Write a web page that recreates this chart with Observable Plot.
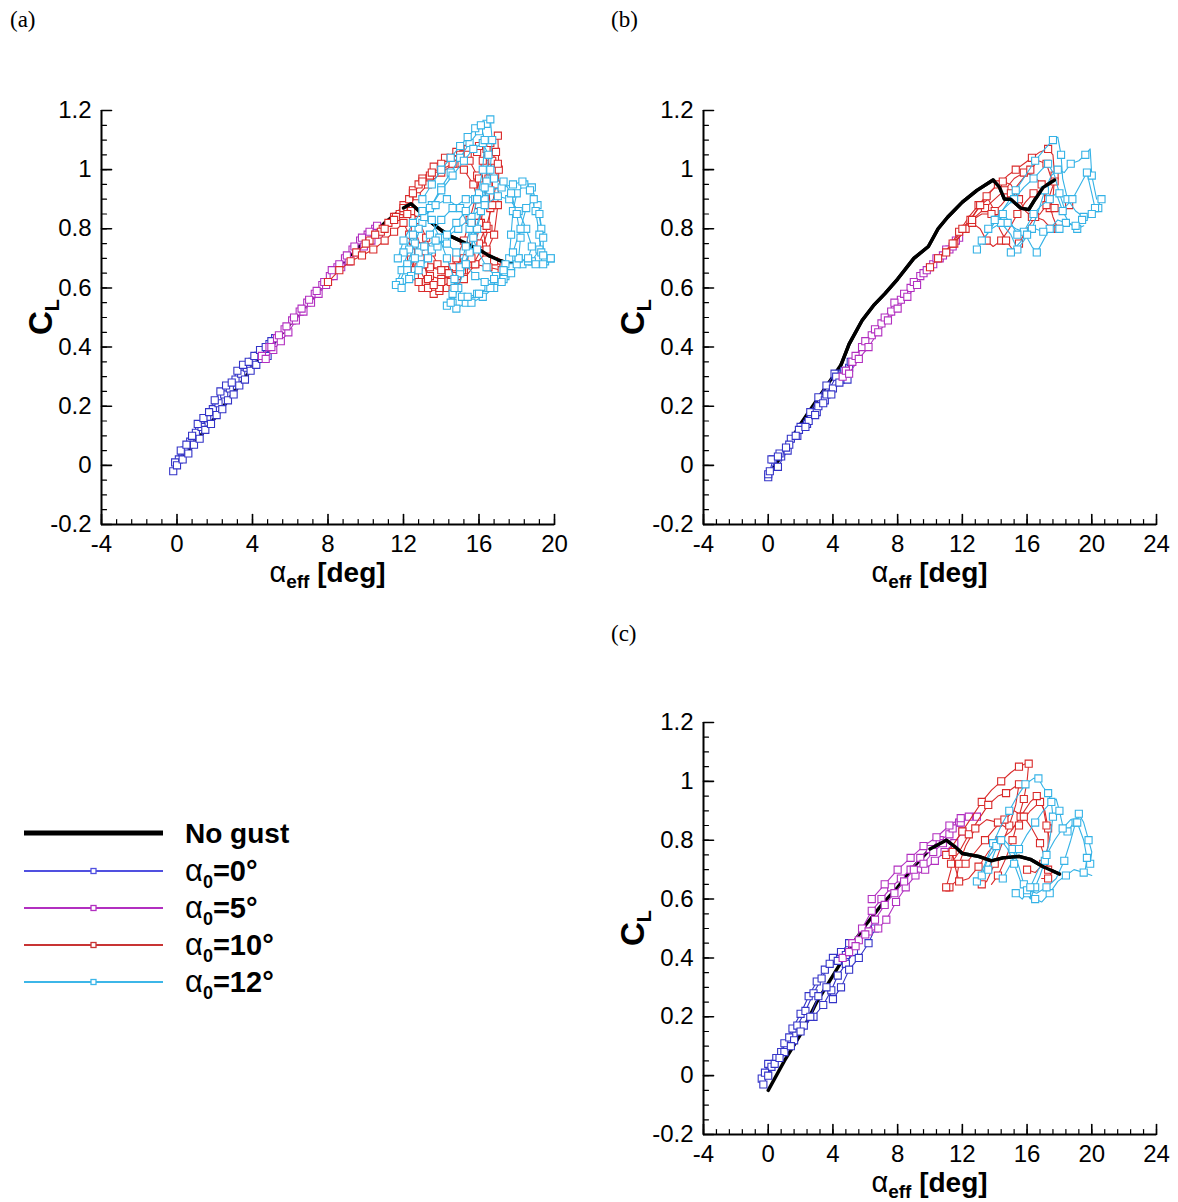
<!DOCTYPE html>
<html><head><meta charset="utf-8">
<script src="https://cdn.jsdelivr.net/npm/d3@7"></script>
<script src="https://cdn.jsdelivr.net/npm/@observablehq/plot@0.6"></script>
<style>
body{margin:0;background:#fff;}
#root{position:relative;width:1178px;height:1202px;overflow:hidden;background:#fff;}
.pl{position:absolute;}
#overlay{position:absolute;left:0;top:0;pointer-events:none;}
</style></head><body><div id="root"></div>
<script>
// ---------- tick labels ----------
const yTicks = [-0.2, 0, 0.2, 0.4, 0.6, 0.8, 1, 1.2];
const xTicksA = [-4, 0, 4, 8, 12, 16, 20];
const xTicksBC = [-4, 0, 4, 8, 12, 16, 20, 24];
const legendNames = ["No gust", "0", "5", "10", "12"]; // alpha_0 values
const panelNames = ["(a)", "(b)", "(c)"];

// ---------- panel (a) ----------
const aNoGust = [[0,0.0],[2,0.16],[4,0.33],[6,0.48],[8,0.63],[9,0.7],[10,0.76],[11,0.82],[12,0.87],[12.4,0.885],[13,0.85],[13.5,0.82],[14,0.795],[14.5,0.775],[15,0.76],[15.5,0.745],[16,0.73],[16.5,0.71],[17,0.695],[17.5,0.685],[18,0.68]];
const aBlue = [
 [[-0.2,-0.02],[0.1,0.02],[0.4,0.05],[0.7,0.08],[1.0,0.11],[1.3,0.13],[1.6,0.16],[1.9,0.19],[2.2,0.21],[2.5,0.24],[2.8,0.26],[3.1,0.29],[3.4,0.31],[3.7,0.33],[4.0,0.35],[4.3,0.37],[4.6,0.39],[4.9,0.41],[5.2,0.43]],
 [[-0.1,0.01],[0.2,0.05],[0.5,0.07],[0.8,0.1],[1.1,0.14],[1.4,0.16],[1.7,0.18],[2.0,0.22],[2.3,0.25],[2.6,0.27],[2.9,0.28],[3.2,0.32],[3.5,0.34],[3.8,0.35],[4.1,0.37],[4.4,0.39],[4.7,0.4],[5.0,0.42]],
 [[0.0,0.0],[0.3,0.02],[0.6,0.04],[0.9,0.07],[1.2,0.09],[1.5,0.12],[1.8,0.14],[2.1,0.17],[2.4,0.19],[2.7,0.22],[3.0,0.24],[3.3,0.27],[3.6,0.29],[3.9,0.32],[4.2,0.34],[4.5,0.36],[4.8,0.37]]
];
const aMagenta = [
 [[4.5,0.37],[4.9,0.4],[5.3,0.43],[5.7,0.46],[6.1,0.49],[6.5,0.52],[6.9,0.55],[7.3,0.58],[7.7,0.61],[8.1,0.64],[8.5,0.67],[8.9,0.7],[9.3,0.73],[9.7,0.76],[10.1,0.78],[10.5,0.8]],
 [[4.7,0.36],[5.1,0.39],[5.5,0.42],[5.9,0.45],[6.3,0.49],[6.7,0.52],[7.1,0.55],[7.5,0.58],[7.9,0.61],[8.3,0.64],[8.7,0.67],[9.1,0.69],[9.5,0.72],[9.9,0.74],[10.3,0.76],[10.7,0.78]],
 [[5.0,0.4],[5.4,0.44],[5.8,0.47],[6.2,0.5],[6.6,0.53],[7.0,0.56],[7.4,0.59],[7.8,0.62],[8.2,0.66],[8.6,0.68],[9.0,0.71],[9.4,0.74],[9.8,0.77],[10.2,0.79],[10.6,0.81]]
];
const aRed = [
 [[9.5,0.72],[10.2,0.76],[10.9,0.8],[11.5,0.84],[12.0,0.88],[12.5,0.93],[13.0,0.97],[13.6,1.01],[14.2,1.04],[14.8,1.06],[15.4,1.07],[15.9,1.06],[16.3,1.02],[16.5,0.95],[16.6,0.87],[16.5,0.8],[16.2,0.74],[15.7,0.68],[15.0,0.64],[14.3,0.6],[13.6,0.58],[13.0,0.6],[12.6,0.64],[12.4,0.7],[12.5,0.76]],
 [[10.0,0.75],[10.8,0.79],[11.5,0.83],[12.1,0.87],[12.7,0.91],[13.3,0.95],[14.0,0.99],[14.7,1.02],[15.4,1.05],[16.0,1.08],[16.6,1.1],[17.0,1.115],[17.05,1.0],[17.0,0.88],[16.8,0.78],[16.4,0.72],[15.8,0.68],[15.2,0.63],[14.6,0.6],[13.9,0.59],[13.2,0.62],[12.8,0.67],[12.9,0.74]],
 [[10.5,0.78],[11.2,0.82],[11.8,0.85],[12.3,0.9],[12.8,0.95],[13.4,0.98],[14.0,1.0],[14.6,1.02],[15.2,1.0],[15.7,0.95],[16.0,0.88],[16.2,0.8],[16.4,0.73],[16.8,0.69],[17.3,0.67],[17.6,0.66],[17.2,0.66],[16.5,0.67],[15.8,0.68],[15.2,0.66],[14.6,0.64],[14.0,0.63],[13.4,0.64],[13.0,0.68]],
 [[11.0,0.8],[11.6,0.84],[12.0,0.86],[12.4,0.86],[12.8,0.83],[13.2,0.77],[13.5,0.72],[13.8,0.68],[14.2,0.66],[14.8,0.67],[15.4,0.7],[15.8,0.75],[16.1,0.82],[16.3,0.9],[16.5,0.97],[16.7,1.03],[16.9,1.06]],
 [[8.0,0.62],[8.6,0.66],[9.2,0.69],[9.8,0.71],[10.4,0.73],[11.0,0.76],[11.5,0.79],[12.0,0.82],[12.3,0.78],[12.4,0.72],[12.6,0.66],[12.8,0.62],[13.3,0.6],[13.9,0.6],[14.5,0.62],[15.1,0.66],[15.6,0.7],[16.0,0.75],[16.4,0.81],[16.7,0.88],[16.9,0.95],[17.0,1.02]],
 [[11.5,0.83],[12.0,0.87],[12.5,0.92],[13.0,0.96],[13.5,0.99],[14.0,1.02],[14.5,1.04],[15.0,1.05],[15.5,1.03],[15.9,0.98],[16.1,0.9],[16.0,0.82],[15.7,0.75],[15.2,0.7],[14.6,0.67],[14.0,0.66],[13.4,0.67],[12.9,0.7]],
 [[12.2,0.85],[12.6,0.8],[12.9,0.74],[13.1,0.68],[13.3,0.63],[13.6,0.61],[14.0,0.62],[14.4,0.65],[14.8,0.7],[15.2,0.76],[15.5,0.83],[15.8,0.9],[16.0,0.97],[16.2,1.03],[16.4,1.07],[16.6,1.09]]
];
const aCyan = [
 [[11.8,0.62],[12.2,0.68],[12.6,0.75],[13.0,0.82],[13.5,0.88],[14.0,0.94],[14.5,0.99],[15.0,1.04],[15.5,1.09],[16.0,1.13],[16.4,1.155],[16.6,1.17],[16.7,1.1],[16.6,1.0],[16.3,0.9],[15.9,0.8],[15.5,0.72],[15.0,0.65],[14.6,0.58],[14.3,0.54]],
 [[11.6,0.61],[11.9,0.66],[12.3,0.73],[12.8,0.8],[13.4,0.87],[14.0,0.93],[14.6,0.98],[15.2,1.03],[15.7,1.07],[16.2,1.09],[16.5,1.05],[16.4,0.96],[16.1,0.86],[15.7,0.77],[15.3,0.68],[14.9,0.6],[14.6,0.55],[14.8,0.53],[15.3,0.55],[15.9,0.58],[16.5,0.6],[17.0,0.62],[17.4,0.64]],
 [[12.0,0.72],[12.5,0.78],[13.1,0.84],[13.7,0.88],[14.3,0.9],[15.0,0.87],[15.5,0.8],[15.9,0.73],[16.4,0.67],[16.9,0.64],[17.4,0.65],[17.6,0.7],[17.7,0.78],[17.8,0.86],[18.0,0.92],[18.4,0.95],[18.8,0.94],[19.1,0.88],[19.3,0.8],[19.2,0.73],[18.8,0.69],[18.3,0.68]],
 [[12.2,0.66],[12.8,0.72],[13.4,0.78],[14.0,0.83],[14.6,0.87],[15.3,0.9],[16.0,0.92],[16.6,0.93],[17.2,0.94],[17.8,0.95],[18.3,0.96],[18.7,0.93],[19.0,0.86],[19.2,0.78],[19.3,0.72],[19.5,0.69],[19.8,0.7]],
 [[11.7,0.7],[12.0,0.76],[12.5,0.82],[13.0,0.86],[13.5,0.83],[13.9,0.77],[14.3,0.7],[14.7,0.63],[15.1,0.57],[15.6,0.55],[16.2,0.57],[16.8,0.6],[17.3,0.63],[17.7,0.67],[18.1,0.7],[18.6,0.69],[19.0,0.68],[19.4,0.68],[19.8,0.7]],
 [[12.4,0.64],[12.9,0.68],[13.5,0.73],[14.2,0.77],[14.9,0.8],[15.6,0.84],[16.3,0.88],[17.0,0.91],[17.6,0.9],[18.1,0.86],[18.5,0.8],[18.8,0.74],[18.6,0.7],[18.0,0.68],[17.4,0.68]],
 [[11.9,0.6],[12.3,0.63],[12.8,0.66],[13.3,0.7],[13.8,0.74],[14.3,0.78],[14.8,0.82],[15.3,0.86],[15.8,0.9],[16.3,0.94],[16.8,0.97],[17.3,0.96],[17.7,0.92],[18.0,0.85],[18.2,0.77],[18.1,0.7],[17.7,0.65],[17.2,0.62],[16.6,0.6],[16.0,0.58],[15.4,0.57]],
 [[13.0,0.9],[13.5,0.95],[14.0,1.0],[14.5,1.04],[15.0,1.08],[15.4,1.11],[15.8,1.14],[16.1,1.15],[16.3,1.1],[16.2,1.0],[15.9,0.9],[15.6,0.82],[15.3,0.74],[15.0,0.67],[14.7,0.6],[14.5,0.55]],
 [[12.6,0.7],[13.1,0.74],[13.7,0.76],[14.3,0.75],[14.8,0.72],[15.3,0.68],[15.8,0.64],[16.3,0.62],[16.8,0.63],[17.3,0.66],[17.8,0.72],[18.2,0.8],[18.5,0.87],[18.9,0.9],[19.2,0.85],[19.4,0.77],[19.4,0.71]]
];

// ---------- panel (b) ----------
const bNoGust = [[0,-0.04],[1,0.05],[2,0.14],[3,0.22],[4,0.3],[4.5,0.34],[5,0.41],[5.8,0.49],[6.5,0.54],[7.2,0.58],[8,0.63],[9,0.7],[9.9,0.74],[10.5,0.8],[11.1,0.84],[12,0.89],[12.9,0.93],[13.9,0.965],[14.3,0.94],[14.6,0.9],[15.0,0.9],[15.6,0.87],[16.1,0.865],[16.5,0.9],[17.0,0.94],[17.7,0.965]];
const bBlue = [
 [[0,-0.04],[0.3,0.02],[0.8,0.03],[1.4,0.09],[2,0.13],[2.6,0.18],[3.1,0.23],[3.6,0.27],[4.1,0.31],[4.6,0.31],[5.0,0.33]],
 [[0,-0.03],[0.6,-0.005],[1.2,0.05],[1.8,0.1],[2.4,0.14],[3.0,0.18],[3.5,0.22],[4.0,0.26],[4.5,0.29],[4.9,0.29]],
 [[0.2,0.02],[0.7,0.04],[1.3,0.07],[1.9,0.12],[2.5,0.15],[3.1,0.2],[3.6,0.24],[4.2,0.3],[4.7,0.32],[5.1,0.35]],
 [[0.1,-0.02],[0.6,0.03],[1.1,0.06],[1.7,0.1],[2.3,0.13],[2.9,0.17],[3.4,0.21],[3.9,0.24],[4.4,0.28],[4.8,0.31]]
];
const bMagenta = [
 [[4.6,0.3],[5.2,0.35],[5.8,0.4],[6.4,0.44],[7.0,0.48],[7.6,0.52],[8.2,0.56],[8.8,0.6],[9.4,0.64],[10.0,0.67],[10.6,0.7],[11.2,0.73],[11.8,0.77]],
 [[4.8,0.32],[5.4,0.37],[6.0,0.42],[6.6,0.46],[7.2,0.5],[7.8,0.55],[8.4,0.58],[9.0,0.62],[9.6,0.65],[10.2,0.68],[10.8,0.71],[11.4,0.74]],
 [[5.0,0.31],[5.6,0.36],[6.2,0.4],[6.8,0.45],[7.4,0.49],[8.0,0.53],[8.6,0.57],[9.2,0.61],[9.8,0.66],[10.4,0.7],[11.0,0.73],[11.6,0.76]]
];
const bRed = [
 [[10.5,0.7],[11.2,0.74],[11.8,0.79],[12.4,0.84],[13.0,0.88],[13.6,0.92],[14.2,0.95],[14.8,0.98],[15.3,1.0],[15.8,1.02],[16.3,1.04],[16.8,1.06],[17.3,1.07],[17.6,1.05],[17.7,0.98],[17.6,0.9],[17.4,0.87]],
 [[11.0,0.72],[11.6,0.76],[12.2,0.8],[12.8,0.84],[13.4,0.87],[14.0,0.9],[14.6,0.93],[15.2,0.97],[15.8,0.99],[16.4,0.98],[16.9,0.95],[17.3,0.9],[17.7,0.87],[18.2,0.85],[18.6,0.88]],
 [[11.5,0.75],[12.1,0.79],[12.6,0.82],[13.1,0.8],[13.5,0.76],[13.9,0.74],[14.4,0.76],[14.9,0.8],[15.4,0.85],[15.9,0.89],[16.4,0.92],[16.9,0.93],[17.3,0.9],[17.6,0.84],[17.9,0.8]],
 [[12.0,0.8],[12.6,0.84],[13.1,0.88],[13.6,0.9],[14.0,0.86],[14.3,0.8],[14.7,0.76],[15.1,0.73],[15.5,0.75],[16.0,0.8],[16.5,0.84],[17.0,0.83],[17.5,0.8],[18.0,0.79]],
 [[12.5,0.83],[13.0,0.87],[13.5,0.91],[14.0,0.94],[14.5,0.96],[15.0,0.95],[15.5,0.9],[15.9,0.86],[16.3,0.84],[16.8,0.85],[17.2,0.88],[17.5,0.93],[17.7,0.96]],
 [[10.0,0.67],[10.7,0.71],[11.4,0.75],[12.0,0.8],[12.6,0.83],[13.2,0.85],[13.8,0.85],[14.4,0.88],[15.0,0.92],[15.6,0.96],[16.2,1.0],[16.7,1.03],[17.2,1.02],[17.5,0.97]]
];
const bCyan = [
 [[12.9,0.73],[13.5,0.78],[14.1,0.83],[14.7,0.88],[15.3,0.93],[15.9,0.98],[16.5,1.03],[17.1,1.07],[17.6,1.1],[17.9,1.11],[18.1,1.05],[18.2,0.97],[18.5,0.9],[19.0,0.86],[19.5,0.84],[20.0,0.84],[20.6,0.9]],
 [[13.2,0.76],[13.8,0.8],[14.4,0.82],[15.0,0.78],[15.4,0.73],[15.8,0.76],[16.3,0.8],[16.7,0.86],[17.1,0.93],[17.5,0.98],[17.9,1.0],[18.3,0.99],[18.7,1.02],[19.2,1.03],[19.6,1.05],[19.9,1.07],[20.0,0.98],[20.3,0.9]],
 [[13.6,0.8],[14.2,0.84],[14.8,0.82],[15.3,0.8],[15.8,0.79],[16.3,0.74],[16.6,0.72],[17.0,0.76],[17.4,0.8],[17.9,0.83],[18.4,0.82],[18.9,0.81],[19.4,0.83],[19.9,0.84],[20.4,0.87]],
 [[14.0,0.83],[14.6,0.87],[15.2,0.9],[15.8,0.94],[16.4,0.97],[16.9,1.0],[17.3,1.02],[17.7,0.98],[18.0,0.92],[18.3,0.87],[18.8,0.9],[19.3,0.95],[19.7,0.99],[20.0,0.92],[20.2,0.87]],
 [[14.5,0.85],[15.0,0.82],[15.4,0.78],[15.9,0.8],[16.4,0.85],[16.9,0.88],[17.4,0.9],[17.8,0.92],[18.2,0.86],[18.6,0.82],[19.1,0.8],[19.5,0.81]],
 [[15.0,0.72],[15.5,0.75],[16.0,0.78],[16.5,0.8],[17.0,0.79],[17.5,0.81],[18.0,0.8],[18.5,0.82],[19.0,0.81],[19.5,0.83],[20.0,0.85]]
];

// ---------- panel (c) ----------
const cNoGust = [[0,-0.05],[1,0.05],[2,0.14],[3,0.25],[4,0.34],[5,0.43],[6,0.51],[7,0.58],[8,0.64],[9,0.71],[10,0.77],[11,0.8],[11.5,0.78],[12,0.755],[13,0.745],[13.8,0.73],[14.5,0.74],[15.5,0.745],[16.2,0.735],[17,0.71],[18,0.685]];
const cBlue = [
 [[-0.4,-0.01],[0.0,0.04],[0.5,0.06],[1.0,0.11],[1.5,0.16],[2.0,0.21],[2.5,0.27],[3.0,0.32],[3.5,0.36],[4.0,0.4],[4.5,0.42],[5.0,0.45]],
 [[-0.3,-0.03],[0.2,0.03],[0.8,0.08],[1.3,0.13],[1.8,0.17],[2.3,0.22],[2.8,0.28],[3.3,0.33],[3.8,0.38],[4.3,0.39],[4.8,0.41]],
 [[-0.2,0.01],[0.4,0.04],[1.0,0.08],[1.6,0.12],[2.2,0.17],[2.8,0.2],[3.4,0.24],[3.9,0.29],[4.3,0.34],[4.8,0.38],[5.3,0.42]],
 [[0,0.0],[0.7,0.06],[1.4,0.1],[2.0,0.15],[2.6,0.2],[3.1,0.27],[3.6,0.3],[4.0,0.26],[4.5,0.3],[5.0,0.36],[5.6,0.4],[6.2,0.45],[6.6,0.5]]
];
const cMagenta = [
 [[4.6,0.4],[5.2,0.45],[5.8,0.5],[6.4,0.56],[7.0,0.6],[7.6,0.64],[8.2,0.67],[8.8,0.7],[9.4,0.74],[10.0,0.77],[10.6,0.8],[11.2,0.82],[11.8,0.86],[12.4,0.88],[12.9,0.88]],
 [[5.0,0.42],[5.6,0.46],[6.2,0.49],[6.8,0.5],[7.3,0.53],[7.9,0.59],[8.5,0.64],[9.1,0.68],[9.7,0.7],[10.3,0.73],[10.9,0.76],[11.5,0.79],[12.0,0.83]],
 [[5.4,0.44],[6.0,0.48],[6.6,0.53],[7.2,0.58],[7.8,0.62],[8.4,0.66],[9.0,0.7],[9.6,0.72],[10.2,0.76],[10.8,0.79],[11.4,0.84],[11.9,0.86]],
 [[6.4,0.6],[7.2,0.65],[8.0,0.7],[8.8,0.74],[9.6,0.78],[10.4,0.81],[11.2,0.85],[11.9,0.875]]
];
const cRed = [
 [[11.0,0.75],[11.5,0.79],[12.0,0.83],[12.6,0.88],[13.2,0.93],[13.8,0.97],[14.4,1.0],[15.0,1.03],[15.5,1.05],[15.9,1.06],[16.1,1.06],[16.0,1.0],[15.8,0.94],[15.5,0.88],[15.1,0.8],[14.7,0.74],[14.2,0.68],[13.8,0.65]],
 [[11.3,0.72],[11.8,0.76],[12.4,0.82],[13.0,0.87],[13.6,0.92],[14.2,0.95],[14.7,0.96],[15.2,0.98],[15.5,0.99],[15.3,0.92],[14.9,0.85],[14.4,0.78],[14.0,0.72],[13.5,0.66],[13.2,0.65]],
 [[11.2,0.64],[11.6,0.66],[11.8,0.72],[12.2,0.78],[12.8,0.84],[13.5,0.87],[14.2,0.86],[14.8,0.84],[15.5,0.85],[16.2,0.9],[16.8,0.93],[17.1,0.9],[17.3,0.84],[17.3,0.78],[17.0,0.72],[16.5,0.69],[16.0,0.7]],
 [[11.0,0.64],[11.3,0.7],[11.4,0.76],[11.5,0.72],[11.8,0.66],[12.4,0.67],[13.0,0.71],[13.6,0.76],[14.3,0.8],[15.0,0.83],[15.6,0.88],[16.2,0.93],[16.6,0.95],[17.0,0.91],[17.2,0.85],[17.4,0.8]],
 [[12.2,0.72],[12.8,0.76],[13.4,0.8],[14.0,0.84],[14.6,0.87],[15.2,0.9],[15.8,0.88],[16.3,0.84],[16.8,0.79],[17.1,0.74],[17.3,0.7],[17.5,0.68],[17.3,0.67],[16.9,0.67]]
];
const cCyan = [
 [[12.9,0.66],[13.4,0.72],[13.9,0.79],[14.4,0.85],[14.9,0.9],[15.4,0.95],[15.9,0.99],[16.4,1.01],[16.7,1.01],[17.0,0.98],[17.3,0.96],[17.5,0.93],[17.6,0.88],[17.4,0.8],[17.1,0.73],[16.8,0.68],[16.5,0.64],[16.2,0.6],[16.0,0.62]],
 [[13.2,0.68],[13.6,0.74],[14.1,0.78],[14.6,0.8],[15.1,0.77],[15.5,0.71],[15.8,0.65],[16.1,0.61],[16.5,0.6],[16.9,0.59],[17.4,0.62],[17.9,0.66],[18.4,0.68],[18.9,0.7],[19.5,0.69],[20.0,0.68]],
 [[14.5,0.67],[15.0,0.72],[15.5,0.77],[16.0,0.82],[16.5,0.86],[17.0,0.9],[17.5,0.93],[17.8,0.94],[18.0,0.9],[18.2,0.85],[18.5,0.83],[18.9,0.86],[19.2,0.89],[19.5,0.86],[19.8,0.8],[20.0,0.76],[19.9,0.72]],
 [[13.6,0.7],[14.0,0.76],[14.4,0.8],[14.8,0.77],[15.2,0.72],[15.6,0.66],[16.0,0.63],[16.6,0.62],[17.2,0.64],[17.8,0.67],[18.3,0.73],[18.7,0.8],[19.0,0.86],[19.3,0.89]],
 [[15.3,0.62],[15.7,0.6],[16.2,0.64],[16.7,0.7],[17.2,0.75],[17.7,0.8],[18.2,0.84],[18.7,0.87],[19.1,0.86],[19.5,0.8],[19.7,0.74],[19.6,0.7]]
];

// ---------- styling ----------
const COL = {black:"#000000", blue:"#3434c8", magenta:"#b22fc0", red:"#d92a2a", cyan:"#34b2e6"};
const legendColors = [COL.black, "#5050e0", COL.magenta, "#c83434", "#3cb6e8"];
const FONT = "'Liberation Sans', Arial, sans-serif";

function rows(curves, tag) {
  const out = [];
  curves.forEach((c, ci) => c.forEach(([x, y], i) => out.push({x, y, z: tag + ci, i})));
  return out;
}
const tickShape = {draw(ctx, l) { ctx.moveTo(0, 0); ctx.lineTo(0, -l); }};

function panel(cfg) {
  const {xTicks, width, height, ml, mr, mt, mb, layers, yLabelX} = cfg;
  const xMax = xTicks[xTicks.length - 1];
  const xMinor = d3.range(0, Math.round((xMax + 4) / 0.8) + 1).map(i => -4 + i * 0.8);
  const yMinor = d3.range(0, 29).map(i => -0.2 + i * 0.05);
  const marks = [];
  for (const L of layers) {
    if (L.kind === "nogust") {
      const from = L.from ?? -Infinity;
      marks.push(Plot.line(L.data, {x: d => d[0], y: d => d[1], filter: d => d[0] >= from, stroke: COL.black, strokeWidth: 3.4, strokeLinejoin: "round"}));
    } else {
      const r = rows(L.data, L.kind);
      marks.push(Plot.line(r, {x: "x", y: "y", z: "z", stroke: L.color, strokeWidth: 1.1}));
      marks.push(Plot.dot(r.filter(d => d.i % L.every === 0), {x: "x", y: "y", symbol: "square", r: 4, stroke: L.color, fill: "white", strokeWidth: 1.1}));
    }
  }
  marks.push(
    Plot.ruleY([-0.2], {stroke: "#000", strokeWidth: 2}),
    Plot.ruleX([-4], {stroke: "#000", strokeWidth: 2}),
    Plot.vectorX(xMinor, {x: d => d, frameAnchor: "bottom", length: 5, rotate: 0, anchor: "start", shape: tickShape, stroke: "#000", strokeWidth: 1.2}),
    Plot.vectorX(xTicks, {x: d => d, frameAnchor: "bottom", length: 10, rotate: 0, anchor: "start", shape: tickShape, stroke: "#000", strokeWidth: 1.6}),
    Plot.vectorY(yMinor, {y: d => d, frameAnchor: "left", length: 5, rotate: 90, anchor: "start", shape: tickShape, stroke: "#000", strokeWidth: 1.2}),
    Plot.vectorY(yTicks, {y: d => d, frameAnchor: "left", length: 10, rotate: 90, anchor: "start", shape: tickShape, stroke: "#000", strokeWidth: 1.6}),
    Plot.axisX({ticks: xTicks, tickSize: 0, tickPadding: 10, label: null, tickFormat: d => String(d), fontSize: 24}),
    Plot.axisY({ticks: yTicks, tickSize: 0, tickPadding: 10, label: null, tickFormat: d => String(+d.toFixed(2)), fontSize: 24})
  );
  const svg = Plot.plot({
    width, height, marginLeft: ml, marginRight: mr, marginTop: mt, marginBottom: mb,
    x: {domain: [-4, xMax]}, y: {domain: [-0.2, 1.2]},
    style: {fontFamily: FONT, fontSize: "24px", color: "#000", background: "transparent", overflow: "visible"},
    marks
  });
  const s = d3.select(svg);
  // y label C_L
  const cy = mt + (height - mt - mb) / 2;
  const ty = s.append("text").attr("transform", `translate(${yLabelX},${cy}) rotate(-90)`)
    .attr("text-anchor", "middle").attr("font-family", FONT).attr("font-weight", "bold").attr("fill", "#000");
  ty.append("tspan").attr("font-size", 33).text("C");
  ty.append("tspan").attr("font-size", 20).attr("dy", 7).text("L");
  // x label alpha_eff [deg]
  const cx = ml + (width - ml - mr) / 2;
  const tx = s.append("text").attr("x", cx).attr("y", height - mb + 58)
    .attr("text-anchor", "middle").attr("font-family", FONT).attr("fill", "#000");
  tx.append("tspan").attr("font-size", 29).text("α");
  tx.append("tspan").attr("font-size", 19).attr("font-weight", "bold").attr("dy", 6).text("eff");
  tx.append("tspan").attr("font-size", 28).attr("font-weight", "bold").attr("dy", -6).text(" [deg]");
  return svg;
}

const root = document.getElementById("root");
function place(svg, left, top) {
  const d = document.createElement("div"); d.className = "pl";
  d.style.left = left + "px"; d.style.top = top + "px";
  d.appendChild(svg); root.appendChild(d);
}

place(panel({xTicks: xTicksA, width: 580, height: 600, ml: 101, mr: 26, mt: 110, mb: 76, yLabelX: 52,
  layers: [
    {kind: "nogust", data: aNoGust},
    {kind: "b", data: aBlue, color: COL.blue, every: 1},
    {kind: "m", data: aMagenta, color: COL.magenta, every: 1},
    {kind: "r", data: aRed, color: COL.red, every: 1},
    {kind: "nogust", data: aNoGust, from: 12},
    {kind: "c", data: aCyan, color: COL.cyan, every: 1}
  ]}), 0, 0);

place(panel({xTicks: xTicksBC, width: 578, height: 600, ml: 103, mr: 22, mt: 110, mb: 76, yLabelX: 44,
  layers: [
    {kind: "nogust", data: bNoGust},
    {kind: "b", data: bBlue, color: COL.blue, every: 1},
    {kind: "m", data: bMagenta, color: COL.magenta, every: 1},
    {kind: "r", data: bRed, color: COL.red, every: 2},
    {kind: "c", data: bCyan, color: COL.cyan, every: 2},
    {kind: "nogust", data: bNoGust, from: 4.5}
  ]}), 600, 0);

place(panel({xTicks: xTicksBC, width: 578, height: 590, ml: 103, mr: 22, mt: 110, mb: 68, yLabelX: 44,
  layers: [
    {kind: "nogust", data: cNoGust},
    {kind: "b", data: cBlue, color: COL.blue, every: 1},
    {kind: "m", data: cMagenta, color: COL.magenta, every: 1},
    {kind: "r", data: cRed, color: COL.red, every: 2},
    {kind: "c", data: cCyan, color: COL.cyan, every: 2},
    {kind: "nogust", data: cNoGust, from: 10}
  ]}), 600, 612);

// ---------- overlay: panel labels and legend ----------
const ov = d3.select(root).append("svg").attr("id", "overlay").attr("width", 1178).attr("height", 1202);
[[10, 27], [611, 27], [611, 641]].forEach(([x, y], i) => {
  ov.append("text").attr("x", x).attr("y", y).attr("font-family", "'Liberation Serif','Times New Roman',serif")
    .attr("font-size", 23).attr("fill", "#000").text(panelNames[i]);
});
const legY = [833, 871, 908, 945, 982];
legendNames.forEach((name, i) => {
  const y = legY[i];
  ov.append("line").attr("x1", 24).attr("x2", 163).attr("y1", y).attr("y2", y)
    .attr("stroke", legendColors[i]).attr("stroke-width", i === 0 ? 5 : 2);
  if (i > 0) {
    ov.append("rect").attr("x", 91).attr("y", y - 2.5).attr("width", 5).attr("height", 5)
      .attr("fill", "white").attr("stroke", legendColors[i]).attr("stroke-width", 1.3);
  }
  const t = ov.append("text").attr("x", 185).attr("y", y + 10).attr("font-family", FONT).attr("fill", "#000");
  if (i === 0) {
    t.attr("font-size", 28).attr("font-weight", "bold").text(name);
  } else {
    t.append("tspan").attr("font-size", 31).text("α");
    t.append("tspan").attr("font-size", 18).attr("font-weight", "bold").attr("dy", 7).text("0");
    t.append("tspan").attr("font-size", 29).attr("font-weight", "bold").attr("dy", -7).text("=" + name + "°");
  }
});
</script>
</body></html>
